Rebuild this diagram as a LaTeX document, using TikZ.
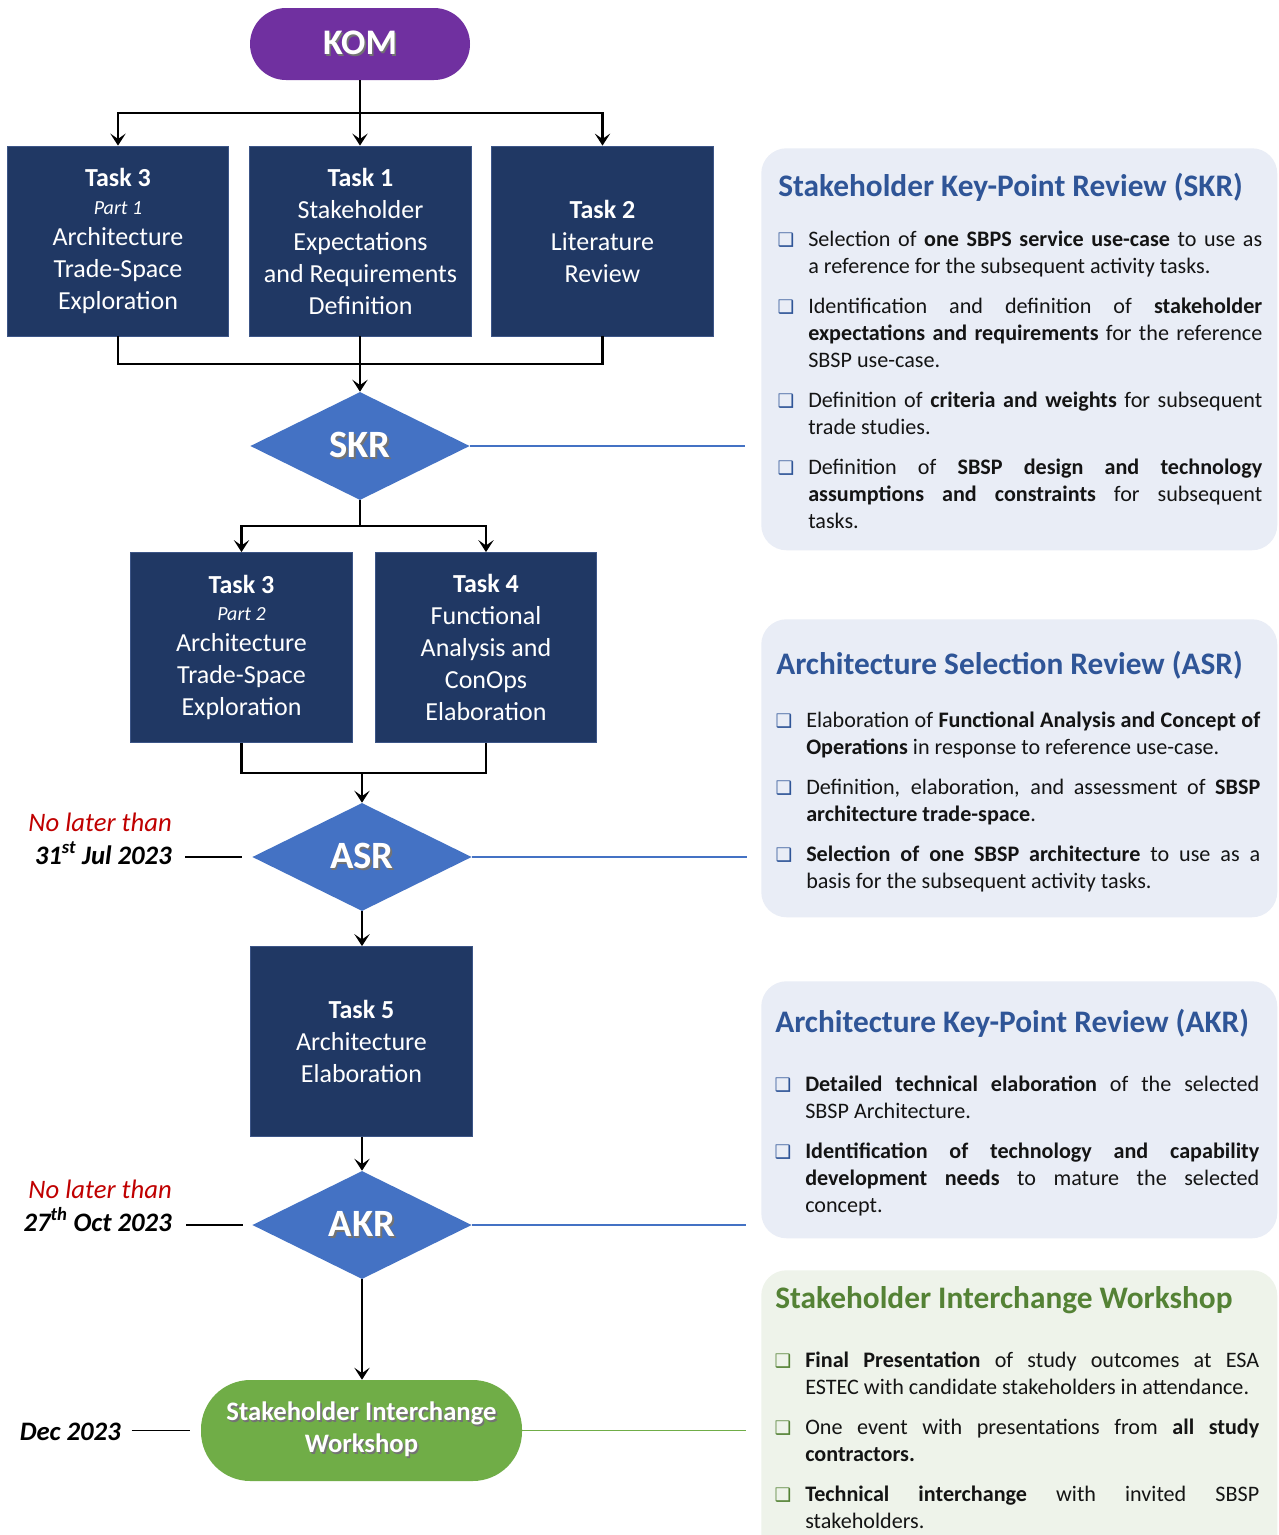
\documentclass[tikz,border=0pt]{standalone}
\usepackage{fontspec}
\setmainfont{Carlito}
\newfontfamily\dejavu{DejaVu Sans}
\usetikzlibrary{shapes.geometric,arrows.meta,calc}
\definecolor{navy}{RGB}{32,56,100}
\definecolor{navyedge}{RGB}{60,85,135}
\definecolor{dblue}{RGB}{68,114,196}
\definecolor{kpurple}{RGB}{112,48,160}
\definecolor{kgreen}{RGB}{112,173,71}
\definecolor{pblue}{RGB}{233,237,246}
\definecolor{pgreen}{RGB}{238,243,234}
\definecolor{tblue}{RGB}{47,85,151}
\definecolor{tgreen}{RGB}{84,130,53}
\definecolor{dred}{RGB}{192,0,0}
\definecolor{txt}{RGB}{20,20,20}
\hyphenpenalty=10000
\exhyphenpenalty=10000
\tolerance=10000
\newcommand\shadowtxt[1]{\leavevmode\rlap{\kern1.2pt\raisebox{-1.2pt}{\color{black!55}#1}}#1}
\begin{document}
\begin{tikzpicture}[x=0.75pt,y=-0.75pt,
  taskbox/.style={rectangle, fill=navy, draw=navyedge, line width=0.6pt,
    minimum width=166pt, minimum height=142.5pt, text=white, align=center,
    inner sep=0pt, font=\fontsize{19.5}{24}\selectfont},
  review/.style={diamond, fill=dblue, minimum width=164.5pt, minimum height=81pt,
    inner sep=0pt, text=white, font=\bfseries\fontsize{29}{32}\selectfont},
  pill/.style={rectangle, text=white, align=center, inner sep=0pt},
  panel/.style={rectangle, rounded corners=19pt, minimum width=387pt, inner sep=0pt},
  ttl/.style={anchor=base west, inner sep=0pt, font=\bfseries\fontsize{23.5}{28}\selectfont},
  itm/.style={anchor=base west, text width=340.5pt, align=justify, inner sep=0pt,
    font=\fontsize{16.6}{20.25}\selectfont, text=txt},
  bul/.style={inner sep=0pt, font=\dejavu\fontsize{14}{14}\selectfont},
  datered/.style={anchor=base east, inner sep=0pt, text=dred, font=\itshape\fontsize{20}{24}\selectfont},
  dateblk/.style={anchor=base east, inner sep=0pt, text=black, font=\bfseries\itshape\fontsize{20}{24}\selectfont},
  flow/.style={line width=2pt, black},
  arr/.style={flow, -{Stealth[length=9pt,width=11.5pt,inset=4pt]}},
  dateline/.style={line width=0.9pt, black},
  sideline/.style={line width=0.9pt, dblue}
]
\useasboundingbox (0,0) rectangle (1278,1535);
\fill[white] (0,0) rectangle (1278,1535);

% ---------- right panels ----------
\node[panel, fill=pblue, minimum height=301.5pt, anchor=north west] (skrp) at (761,148) {};
\node[panel, fill=pblue, minimum height=223.5pt, anchor=north west] (asrp) at (761,619) {};
\node[panel, fill=pblue, minimum height=192.75pt, anchor=north west] (akrp) at (761,981) {};
\node[panel, fill=pgreen, minimum height=225pt, anchor=north west] (siwp) at (761,1270) {};

% ---------- flow nodes ----------
\node[pill, fill=kpurple, rounded corners=27pt, minimum width=165pt, minimum height=54pt,
  font=\bfseries\fontsize{27}{30}\selectfont] (kom) at (360,44) {\shadowtxt{KOM}};

\node[taskbox] (t3a) at (118,241) {\textbf{Task 3}\\[-3.5pt]{\fontsize{15}{18}\itshape\selectfont Part 1}\\[-0.75pt]Architecture\\Trade-Space\\Exploration};
\node[taskbox] (t1) at (360.5,241) {\textbf{Task 1}\\Stakeholder\\Expectations\\and Requirements\\Definition};
\node[taskbox] (t2) at (602.5,241) {\textbf{Task 2}\\Literature\\Review};

\node[review] (skr) at (360,446) {\shadowtxt{SKR}};

\node[taskbox] (t3b) at (241.5,647.5) {\textbf{Task 3}\\[-3.5pt]{\fontsize{15}{18}\itshape\selectfont Part 2}\\[-0.75pt]Architecture\\Trade-Space\\Exploration};
\node[taskbox] (t4) at (486,647.5) {\textbf{Task 4}\\Functional\\Analysis and\\ConOps\\Elaboration};

\node[review] (asr) at (362,857) {\shadowtxt{ASR}};

\node[taskbox] (t5) at (361.5,1041.5) {\textbf{Task 5}\\Architecture\\Elaboration};

\node[review] (akr) at (362,1225) {\shadowtxt{AKR}};

\node[pill, fill=kgreen, rounded corners=37pt, minimum width=240.75pt, minimum height=75.75pt,
  font=\bfseries\fontsize{20}{24}\selectfont] (siw) at (361.5,1430.5)
  {\shadowtxt{Stakeholder Interchange}\\\shadowtxt{Workshop}};

% ---------- connectors ----------
\coordinate (s1) at (360,113);
\draw[flow] (kom.south) -- (s1);
\draw[arr] (s1) -| (t3a.north);
\draw[arr] (s1) -| (t2.north);
\draw[arr] (s1) -- (t1.north -| s1);

\coordinate (m1) at (360,364);
\draw[flow] (t3a.south) |- (m1);
\draw[flow] (t2.south) |- (m1);
\draw[flow] (t1.south -| m1) -- (m1);
\draw[arr] (m1) -- (skr.north);

\coordinate (s2) at (360,526);
\draw[flow] (skr.south) -- (s2);
\draw[arr] (s2) -| (t3b.north);
\draw[arr] (s2) -| (t4.north);

\coordinate (m2) at (362,773);
\draw[flow] (t3b.south) |- (m2);
\draw[flow] (t4.south) |- (m2);
\draw[arr] (m2) -- (asr.north);

\draw[arr] (asr.south) -- (t5.north -| asr.south);
\draw[arr] (t5.south -| akr.north) -- (akr.north);
\draw[arr] (akr.south) -- (siw.north -| akr.south);

% side lines to panels
\draw[sideline, shorten >=12pt] (skr.east) -- (skr.east -| skrp.west);
\draw[sideline, shorten >=10.5pt] (asr.east) -- (asr.east -| asrp.west);
\draw[sideline, shorten >=11pt] (akr.east) -- (akr.east -| akrp.west);
\draw[line width=0.9pt, kgreen, shorten >=11pt] (siw.east) -- (siw.east -| siwp.west);

% ---------- dates ----------
\node[datered] (d1a) at (172,831) {No later than};
\node[dateblk] (d1b) at (172,864) {31\textsuperscript{st} Jul 2023};
\draw[dateline, shorten <=9.75pt, shorten >=7.5pt] (d1b.east |- asr.west) -- (asr.west);

\node[datered] (d2a) at (172,1198) {No later than};
\node[dateblk] (d2b) at (172,1231) {27\textsuperscript{th} Oct 2023};
\draw[dateline, shorten <=10.5pt, shorten >=7pt] (d2b.east |- akr.west) -- (akr.west);

\node[dateblk] (d3) at (121,1440) {Dec 2023};
\draw[dateline, shorten <=8pt, shorten >=8pt] (d3.east |- siw.west) -- (siw.west);

% ---------- SKR panel ----------
\node[ttl, text=tblue] (skrt) at (778,196) {Stakeholder Key-Point Review (SKR)};
\node[bul, text=tblue] (skrb1) at (786,240) {❑};
\node[itm] (skri1) at (808,246) {Selection of \textbf{one SBPS service use-case} to use as\linebreak a reference for the subsequent activity tasks.};
\node[bul, text=tblue] (skrb2) at (786,307) {❑};
\node[itm] (skri2) at (808,313) {Identification and definition of \textbf{stakeholder}\linebreak \textbf{expectations and requirements} for the reference\linebreak SBSP use-case.};
\node[bul, text=tblue] (skrb3) at (786,401) {❑};
\node[itm] (skri3) at (808,407) {Definition of \textbf{criteria and weights} for subsequent\linebreak trade studies.};
\node[bul, text=tblue] (skrb4) at (786,468) {❑};
\node[itm] (skri4) at (808,474) {Definition of \textbf{SBSP design and technology}\linebreak \textbf{assumptions and constraints} for subsequent\linebreak tasks.};

% ---------- ASR panel ----------
\node[ttl, text=tblue] (asrt) at (776,674) {Architecture Selection Review (ASR)};
\node[bul, text=tblue] (asrb1) at (784,721) {❑};
\node[itm] (asri1) at (806,727) {Elaboration of \textbf{Functional Analysis and Concept of}\linebreak \textbf{Operations} in response to reference use-case.};
\node[bul, text=tblue] (asrb2) at (784,788) {❑};
\node[itm] (asri2) at (806,794) {Definition, elaboration, and assessment of \textbf{SBSP}\linebreak \textbf{architecture trade-space}.};
\node[bul, text=tblue] (asrb3) at (784,855) {❑};
\node[itm] (asri3) at (806,861) {\textbf{Selection of one SBSP architecture} to use as a\linebreak basis for the subsequent activity tasks.};

% ---------- AKR panel ----------
\node[ttl, text=tblue] (akrt) at (775,1032) {Architecture Key-Point Review (AKR)};
\node[bul, text=tblue] (akrb1) at (783,1085) {❑};
\node[itm] (akri1) at (805,1091) {\textbf{Detailed technical elaboration} of the selected\linebreak SBSP Architecture.};
\node[bul, text=tblue] (akrb2) at (783,1152) {❑};
\node[itm] (akri2) at (805,1158) {\textbf{Identification of technology and capability}\linebreak \textbf{development needs} to mature the selected\linebreak concept.};

% ---------- SIW panel ----------
\node[ttl, text=tgreen] (siwt) at (775,1308) {Stakeholder Interchange Workshop};
\node[bul, text=tgreen] (siwb1) at (783,1361) {❑};
\node[itm] (siwi1) at (805,1367) {\textbf{Final Presentation} of study outcomes at ESA\linebreak ESTEC with candidate stakeholders in attendance.};
\node[bul, text=tgreen] (siwb2) at (783,1428) {❑};
\node[itm] (siwi2) at (805,1434) {One event with presentations from \textbf{all study}\linebreak \textbf{contractors.}};
\node[bul, text=tgreen] (siwb3) at (783,1495) {❑};
\node[itm] (siwi3) at (805,1501) {\textbf{Technical interchange} with invited SBSP\linebreak stakeholders.};
\end{tikzpicture}
\end{document}
